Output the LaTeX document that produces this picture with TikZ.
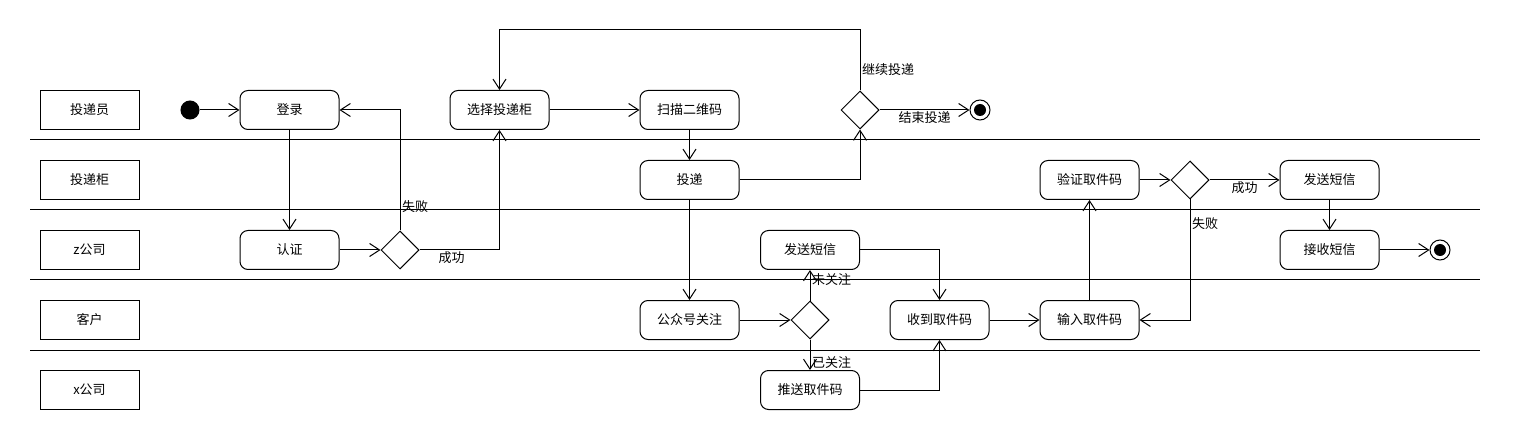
\documentclass[tikz,border=0pt]{standalone}
\usepackage{fontspec}
\setmainfont{Noto Sans CJK SC}
\usetikzlibrary{shapes.geometric,arrows.meta}
\tikzset{
	lane/.style={draw, minimum width=99pt, minimum height=39pt},
	act/.style={draw, rounded corners=8pt, minimum width=99pt, minimum height=39pt},
	choice/.style={draw, diamond, minimum width=38pt, minimum height=38pt, inner sep=0pt},
	final/.style={draw, circle, minimum size=20pt, inner sep=0pt, path picture={\fill (path picture bounding box.center) circle (6pt);}},
	flow/.style={-{Straight Barb[length=10pt,width=13pt]}},
	tag/.style={inner sep=1.5pt}
}
\begin{document}
\begin{tikzpicture}[x=1pt, y=-1pt, node distance=70pt, line width=1pt, font=\fontsize{13}{15}\selectfont]
				\useasboundingbox (0,0) rectangle (1520,430);
				\foreach \y in {140,210,280,350} \draw (30,\y) -- (1480,\y);
				\node[lane] (pdy) at (89.5,110) {投递员};
				\node[lane, below of=pdy] (tdg) {投递柜};
				\node[lane, below of=tdg] (zgs) {z公司};
				\node[lane, below of=zgs] (kh) {客户};
				\node[lane, below of=kh] (xgs) {x公司};
				\node[draw, circle, fill, minimum size=18pt, inner sep=0pt] (start) at (190,110) {};
				\node[act] (login) at (289.5,110) {登录};
				\node[act, below of=login, node distance=140pt] (auth) {认证};
				\node[choice] (d1) at (400,250) {};
				\node[act] (pick) at (499.5,110) {选择投递柜};
				\node[act] (scan) at (689.5,110) {扫描二维码};
				\node[act, below of=scan] (drop) {投递};
				\node[choice] (d2) at (860,110) {};
				\node[final] (end1) at (980,110) {};
				\node[act, below of=drop, node distance=140pt] (follow) {公众号关注};
				\node[choice] (d3) at (810,320) {};
				\node[act, above of=d3] (sms1) {发送短信};
				\node[act, below of=d3] (push) {推送取件码};
				\node[act] (recv) at (939.5,320) {收到取件码};
				\node[act] (input) at (1089.5,320) {输入取件码};
				\node[act, above of=input, node distance=140pt] (check) {验证取件码};
				\node[choice] (d4) at (1190,180) {};
				\node[act] (sms2) at (1329.5,180) {发送短信};
				\node[act, below of=sms2] (getsms) {接收短信};
				\node[final] (end2) at (1440,250) {};
				\draw[flow] (start) -- (login);
				\draw[flow] (login) -- (auth);
				\draw[flow] (auth) -- (d1);
				\draw[flow] (d1.north) |- node[tag, pos=0.1, right] {失败} (login.east);
				\draw[flow] (d1.east) -| node[tag, pos=0.2, below] {成功} (pick.south);
				\draw[flow] (pick) -- (scan);
				\draw[flow] (scan) -- (drop);
				\draw[flow] (drop.east) -| (d2.south);
				\draw[flow] (d2.north) -- node[tag, pos=0.35, right] {继续投递} (d2.north |- 0,30) -| (pick.north);
				\draw[flow] (d2) -- node[tag, below] {结束投递} (end1);
				\draw[flow] (drop) -- (follow);
				\draw[flow] (follow) -- (d3);
				\draw[flow] (d3) -- node[tag, pos=0.7, right] {未关注} (sms1);
				\draw[flow] (d3) -- node[tag, pos=0.77, right] {已关注} (push);
				\draw[flow] (sms1.east) -| (recv.north);
				\draw[flow] (push.east) -| (recv.south);
				\draw[flow] (recv) -- (input);
				\draw[flow] (input) -- (check);
				\draw[flow] (check) -- (d4);
				\draw[flow] (d4) -- node[tag, below] {成功} (sms2);
				\draw[flow] (d4.south) |- node[tag, pos=0.1, right] {失败} (input.east);
				\draw[flow] (sms2) -- (getsms);
				\draw[flow] (getsms) -- (end2);
			\end{tikzpicture}
\end{document}
